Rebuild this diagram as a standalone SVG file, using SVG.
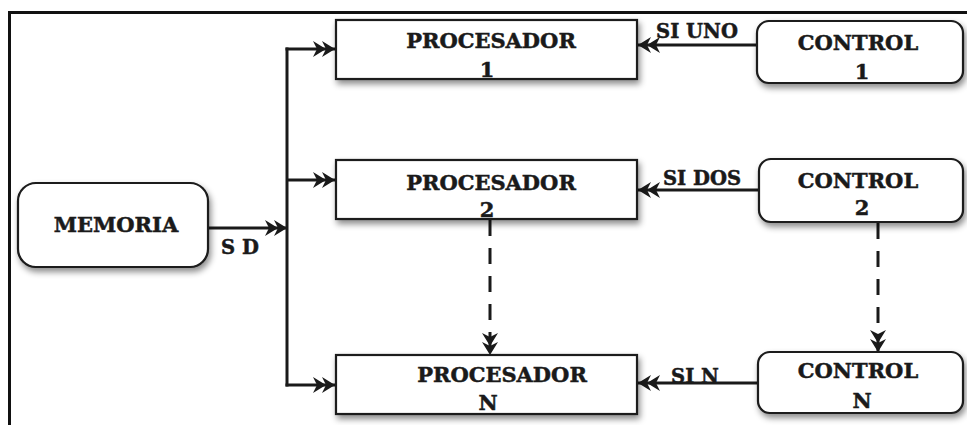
<svg xmlns="http://www.w3.org/2000/svg" width="967" height="425" viewBox="0 0 967 425">
  <style>
    .box { fill: #ffffff; stroke: #1a1a1a; stroke-width: 2.2; filter: url(#shadow); }
    .lbl { font-family: "DejaVu Serif", "Liberation Serif", serif; font-weight: bold; fill: #1a1a1a; stroke: #1a1a1a; stroke-width: 0.5; text-anchor: middle; }
    .node { font-size: 21px; }
    .edge { font-size: 19.5px; }
    .wire { fill: none; stroke: #1a1a1a; stroke-width: 3; }
    .dash { stroke-dasharray: 16 12; }
  </style>
  <defs>
    <filter id="shadow" x="-10%" y="-20%" width="130%" height="160%">
      <feDropShadow dx="2" dy="4" stdDeviation="3" flood-color="#000000" flood-opacity="0.45"/>
    </filter>
    <!-- double chevron head, tip at the line end -->
    <marker id="dbl" viewBox="-24 -10 26 20" refX="0" refY="0" markerWidth="26" markerHeight="20" markerUnits="userSpaceOnUse" orient="auto">
      <path d="M0,0 L-13,-8 L-9,0 L-13,8 Z M-9,0 L-22,-8 L-18,0 L-22,8 Z" fill="#1a1a1a"/>
    </marker>
  </defs>

  <rect width="967" height="425" fill="#ffffff"/>
  <!-- outer frame -->
  <path d="M9.5,425 L9.5,12.5 L967,12.5" fill="none" stroke="#111111" stroke-width="3"/>

  <g id="connectors">
    <line class="wire" x1="208" y1="228" x2="287" y2="228" marker-end="url(#dbl)"/>
    <line class="wire" x1="287" y1="47.5" x2="287" y2="386.5"/>
    <line class="wire" x1="285.5" y1="49" x2="335" y2="49" marker-end="url(#dbl)"/>
    <line class="wire" x1="287" y1="180" x2="335" y2="180" marker-end="url(#dbl)"/>
    <line class="wire" x1="285.5" y1="385" x2="335" y2="385" marker-end="url(#dbl)"/>
    <line class="wire" x1="757" y1="45" x2="638" y2="45" marker-end="url(#dbl)"/>
    <line class="wire" x1="759" y1="190" x2="638" y2="190" marker-end="url(#dbl)"/>
    <line class="wire" x1="758" y1="383" x2="638" y2="383" marker-end="url(#dbl)"/>
    <line class="wire dash" x1="490" y1="220" x2="490" y2="355" marker-end="url(#dbl)"/>
    <line class="wire dash" x1="878" y1="223" x2="878" y2="352" marker-end="url(#dbl)"/>
    <text class="lbl edge" x="240" y="254">S D</text>
    <text class="lbl edge" x="697" y="38">SI UNO</text>
    <text class="lbl edge" x="702" y="185">SI DOS</text>
    <text class="lbl edge" x="695" y="383">SI N</text>
  </g>

  <g id="memoria">
    <rect class="box" x="18" y="183" width="190" height="84" rx="18"/>
    <text class="lbl node" x="116" y="232">MEMORIA</text>
  </g>

  <g id="procesador-1">
    <rect class="box" x="336" y="20" width="301" height="59"/>
    <text class="lbl node" x="491" y="48">PROCESADOR</text>
    <text class="lbl node" x="487" y="77">1</text>
  </g>
  <g id="procesador-2">
    <rect class="box" x="336" y="160" width="301" height="59"/>
    <text class="lbl node" x="491" y="190">PROCESADOR</text>
    <text class="lbl node" x="487" y="217">2</text>
  </g>
  <g id="procesador-n">
    <rect class="box" x="336" y="355" width="301" height="59"/>
    <text class="lbl node" x="502" y="382">PROCESADOR</text>
    <text class="lbl node" x="488" y="410">N</text>
  </g>

  <g id="control-1">
    <rect class="box" x="757" y="21" width="206" height="62" rx="12"/>
    <text class="lbl node" x="858" y="50">CONTROL</text>
    <text class="lbl node" x="862" y="79">1</text>
  </g>
  <g id="control-2">
    <rect class="box" x="759" y="159" width="204" height="63" rx="12"/>
    <text class="lbl node" x="858" y="188">CONTROL</text>
    <text class="lbl node" x="862" y="215">2</text>
  </g>
  <g id="control-n">
    <rect class="box" x="758" y="352" width="205" height="61" rx="12"/>
    <text class="lbl node" x="858" y="378">CONTROL</text>
    <text class="lbl node" x="862" y="408">N</text>
  </g>
</svg>
